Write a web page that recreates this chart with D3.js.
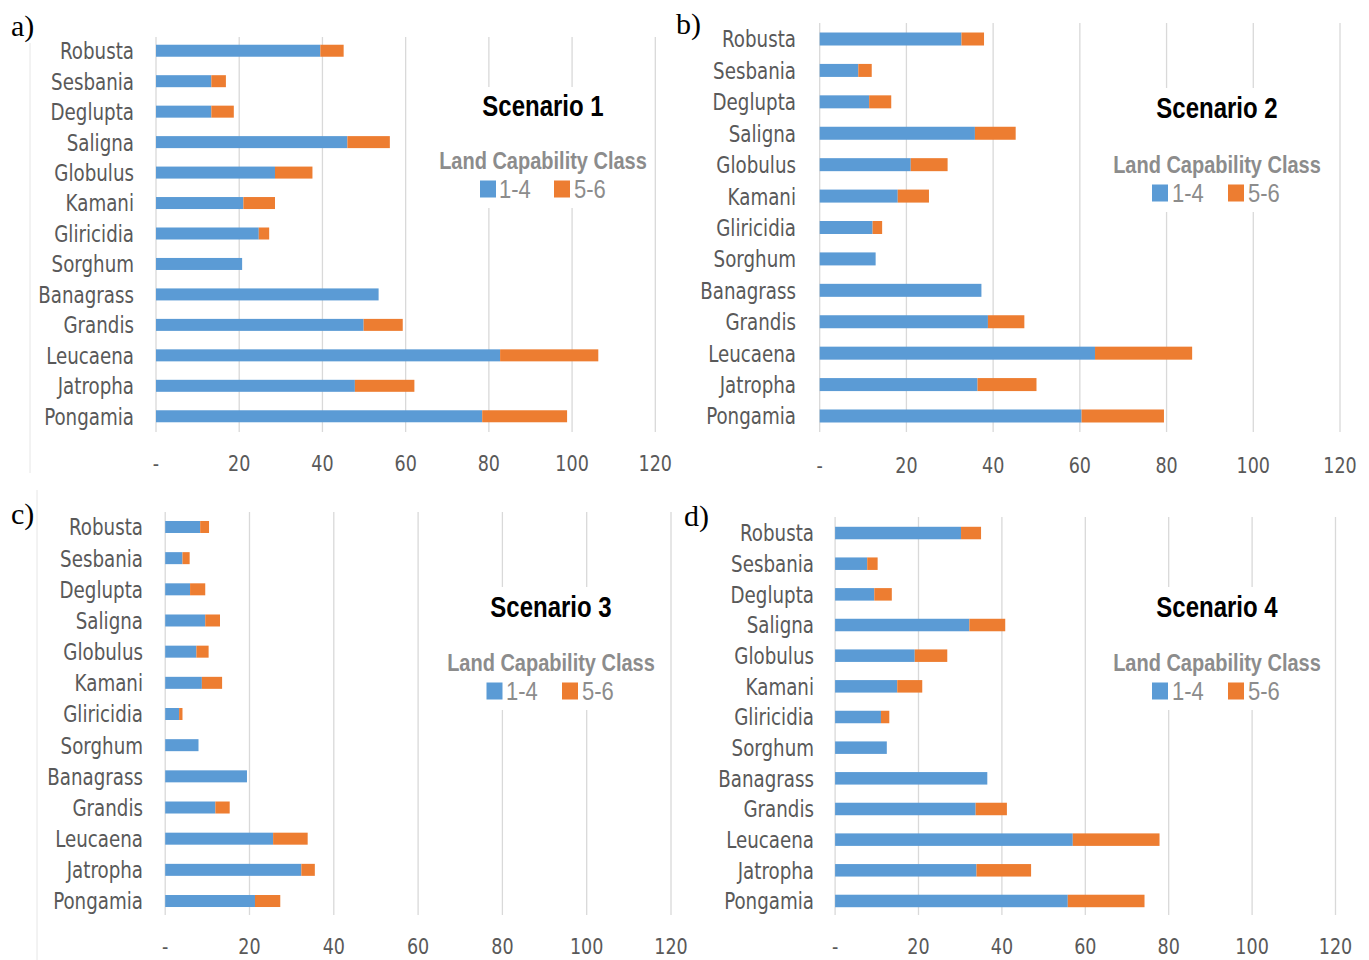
<!DOCTYPE html>
<html>
<head>
<meta charset="utf-8">
<script src="https://cdn.jsdelivr.net/npm/d3@7"></script>
<style>
  body { margin: 0; background: #fff; }
  svg { display: block; }
  .cat { font-family: "DejaVu Sans Condensed", Lato, sans-serif; fill: #595959; }
  .tick-lbl { font-family: "DejaVu Sans Condensed", Lato, sans-serif; fill: #595959; }
  .title { font-family: "Liberation Sans", Arial, sans-serif; font-weight: bold; fill: #000; }
  .leg { font-family: "Liberation Sans", Arial, sans-serif; fill: #8c8c8c; }
  .tag { font-family: "Liberation Serif", "DejaVu Serif", serif; fill: #000; }
</style>
</head>
<body>
<svg width="1369" height="960"></svg>
<script>
// species, top to bottom
var species = ['Robusta', 'Sesbania', 'Deglupta', 'Saligna', 'Globulus', 'Kamani',
  'Gliricidia', 'Sorghum', 'Banagrass', 'Grandis', 'Leucaena', 'Jatropha', 'Pongamia']

// land capability class 1-4 and 5-6, per scenario
var s1Class14 = [39.5, 13.3, 13.3, 46.0, 28.6, 21.0, 24.7, 20.7, 53.5, 49.9, 82.7, 47.8, 78.4]
var s1Class56 = [5.6, 3.5, 5.4, 10.2, 9.0, 7.6, 2.5, 0, 0, 9.4, 23.6, 14.3, 20.4]

var s2Class14 = [32.7, 8.9, 11.4, 35.8, 21.0, 18.0, 12.2, 12.9, 37.3, 38.8, 63.5, 36.4, 60.4]
var s2Class56 = [5.2, 3.1, 5.1, 9.4, 8.5, 7.2, 2.2, 0, 0, 8.4, 22.4, 13.6, 19.0]

var s3Class14 = [8.3, 4.1, 5.9, 9.5, 7.4, 8.7, 3.3, 7.9, 19.4, 11.9, 25.6, 32.3, 21.3]
var s3Class56 = [2.1, 1.7, 3.6, 3.5, 2.9, 4.8, 0.8, 0, 0, 3.4, 8.2, 3.2, 6.0]

var s4Class14 = [30.2, 7.7, 9.4, 32.2, 19.1, 14.9, 11.0, 12.4, 36.5, 33.7, 57.0, 33.9, 55.8]
var s4Class56 = [4.8, 2.5, 4.2, 8.6, 7.8, 6.0, 2.0, 0, 0, 7.5, 20.8, 13.1, 18.4]

var tickValues = [0, 20, 40, 60, 80, 100, 120]
var classLabels = ['1-4', '5-6']
var colors = ['#5b9bd5', '#ed7d31']

// panel layout (pixels)
var panels = [
  { tag: 'a)', title: 'Scenario 1', a: s1Class14, b: s1Class56,
    x0: 156, x1: 655.3, yTop: 35.5, yBot: 431.5, gTop: 37, gBot: 432, bar: 12,
    labelX: 134, tickY: 463, tagX: 11, tagY: 36, frame: [30, 43, 473],
    box: [436, 87, 214, 121], cx: 543, titleY: 106, legY: 160, itemY: 189,
    items: [480, 499, 554, 574] },
  { tag: 'b)', title: 'Scenario 2', a: s2Class14, b: s2Class56,
    x0: 819.7, x1: 1340, yTop: 23.3, yBot: 431.7, gTop: 23, gBot: 432, bar: 13,
    labelX: 796, tickY: 465, tagX: 676, tagY: 34, frame: null,
    box: [1110, 88, 214, 124], cx: 1217, titleY: 108, legY: 164, itemY: 193,
    items: [1152, 1172, 1228, 1248] },
  { tag: 'c)', title: 'Scenario 3', a: s3Class14, b: s3Class56,
    x0: 165.2, x1: 671, yTop: 511.4, yBot: 916.6, gTop: 512, gBot: 915, bar: 12,
    labelX: 143, tickY: 946, tagX: 11, tagY: 524, frame: [37, 490, 960],
    box: [447, 587, 210, 123], cx: 551, titleY: 607, legY: 662, itemY: 691,
    items: [486.5, 506, 562, 582] },
  { tag: 'd)', title: 'Scenario 4', a: s4Class14, b: s4Class56,
    x0: 835.1, x1: 1335.5, yTop: 517.7, yBot: 916.3, gTop: 517, gBot: 915, bar: 12.5,
    labelX: 814, tickY: 946, tagX: 684, tagY: 526, frame: null,
    box: [1113, 587, 209, 123], cx: 1217, titleY: 607, legY: 662, itemY: 691,
    items: [1152, 1172, 1228, 1248] }
]

// the original figure is stretched a bit vertically, so text gets a y-scale
function stretched(sel, x, y, sy) {
  return sel.attr('transform', 'translate(' + x + ',' + y + ') scale(1,' + sy + ')')
}

var svg = d3.select('svg')

panels.forEach(function(p) {
  var g = svg.append('g')

  var x = d3.scaleLinear().domain([0, 120]).range([p.x0, p.x1])
  var step = (p.yBot - p.yTop) / species.length
  var pad = 1 - p.bar / step
  var y = d3.scaleBand()
    .domain(species)
    .range([p.yTop, p.yBot])
    .paddingInner(pad)
    .paddingOuter(pad / 2)

  if (p.frame) {
    g.append('line')
      .attr('x1', p.frame[0]).attr('x2', p.frame[0])
      .attr('y1', p.frame[1]).attr('y2', p.frame[2])
      .attr('stroke', '#e6e6e6')
  }

  // gridlines
  g.append('g')
    .selectAll('line')
    .data(tickValues)
    .enter()
    .append('line')
    .attr('x1', d => x(d)).attr('x2', d => x(d))
    .attr('y1', p.gTop).attr('y2', p.gBot)
    .attr('stroke', '#d9d9d9')
    .attr('stroke-width', 1.3)

  // tick labels
  g.append('g')
    .selectAll('text')
    .data(tickValues)
    .enter()
    .append('text')
    .attr('class', 'tick-lbl')
    .each(function(d) { stretched(d3.select(this), x(d), p.tickY, 1.12) })
    .attr('dy', '0.36em')
    .attr('text-anchor', 'middle')
    .style('font-size', '19.5px')
    .text(d => (d === 0 ? '-' : d))

  // stacked bars
  var rows = species.map((s, i) => ({ name: s, v: [p.a[i], p.b[i]] }))
  var stack = d3.stack().keys([0, 1]).value((d, k) => d.v[k])(rows)

  g.append('g')
    .selectAll('g')
    .data(stack)
    .enter()
    .append('g')
    .attr('fill', (d, i) => colors[i])
    .selectAll('rect')
    .data(d => d)
    .enter()
    .append('rect')
    .attr('x', d => x(d[0]))
    .attr('y', d => y(d.data.name))
    .attr('width', d => x(d[1]) - x(d[0]))
    .attr('height', y.bandwidth())

  // category labels
  g.append('g')
    .selectAll('text')
    .data(species)
    .enter()
    .append('text')
    .attr('class', 'cat')
    .each(function(d) { stretched(d3.select(this), p.labelX, y(d) + y.bandwidth() / 2, 1.15) })
    .attr('dy', '0.36em')
    .attr('text-anchor', 'end')
    .style('font-size', '20.3px')
    .text(d => d)

  // title + legend box
  g.append('rect')
    .attr('x', p.box[0]).attr('y', p.box[1])
    .attr('width', p.box[2]).attr('height', p.box[3])
    .attr('fill', '#fff')

  stretched(g.append('text'), p.cx, p.titleY, 1.2)
    .attr('class', 'title')
    .attr('dy', '0.36em')
    .attr('text-anchor', 'middle')
    .style('font-size', '24px')
    .text(p.title)

  stretched(g.append('text'), p.cx, p.legY, 1.2)
    .attr('class', 'leg')
    .attr('dy', '0.36em')
    .attr('text-anchor', 'middle')
    .style('font-size', '20px')
    .style('font-weight', 'bold')
    .text('Land Capability Class')

  classLabels.forEach(function(lbl, i) {
    g.append('rect')
      .attr('x', p.items[i * 2]).attr('y', p.itemY - 8.5)
      .attr('width', 16).attr('height', 17)
      .attr('fill', colors[i])
    stretched(g.append('text'), p.items[i * 2 + 1], p.itemY, 1.15)
      .attr('class', 'leg')
      .attr('dy', '0.36em')
      .style('font-size', '22px')
      .text(lbl)
  })

  // panel letter
  g.append('text')
    .attr('class', 'tag')
    .attr('x', p.tagX).attr('y', p.tagY)
    .style('font-size', '30px')
    .text(p.tag)
})
</script>
</body>
</html>
